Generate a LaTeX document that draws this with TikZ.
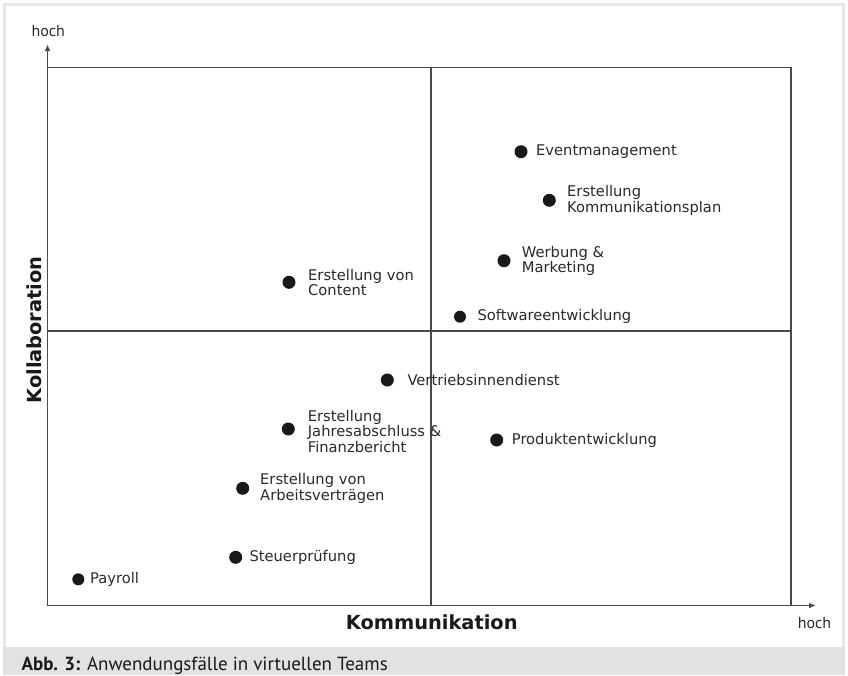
\documentclass[tikz,border=0pt]{standalone}
\usepackage{fontspec}
\newfontfamily\labfont{DejaVu Sans}
\newfontfamily\capfont{PT Sans}
\usetikzlibrary{arrows.meta}
\definecolor{axisgray}{HTML}{4A4A4A}
\definecolor{textgray}{HTML}{2A2A2A}
\definecolor{bordergray}{HTML}{E8E8E8}
\definecolor{bandgray}{HTML}{E2E2E2}
\begin{document}
\begin{tikzpicture}[x=1pt,y=-1pt,
  dot/.style={circle,fill=black!90,inner sep=0pt,minimum size=13pt},
  lbl/.style={anchor=west,inner sep=0pt,align=left,text=textgray,
    font=\labfont\fontsize{14.7}{15.3}\selectfont},
  axislbl/.style={inner sep=0pt,text=black!90,font=\labfont\bfseries\fontsize{19.4}{21}\selectfont},
  hochlbl/.style={inner sep=0pt,anchor=base,text=textgray,font=\capfont\fontsize{16}{18}\selectfont},
  gridline/.style={draw=axisgray,line width=1.3pt},
  midline/.style={draw=axisgray,line width=1.7pt},
  axisline/.style={draw=axisgray,line width=1.3pt,-{Triangle[length=6pt,width=5pt]}}]
\useasboundingbox (0,0) rectangle (848,675);
% frame and caption band
\fill[white] (0,0) rectangle (848,675);
\draw[bordergray,line width=3pt] (4.5,4.5) rectangle (843.5,660);
\fill[bandgray] (3,647) rectangle (845,675);
\node[anchor=base west,inner sep=0pt,font=\capfont\fontsize{19}{21}\selectfont,text=black!90] (cap) at (21.5,670.5) {\textbf{Abb. 3:} Anwendungsfälle in virtuellen Teams};
% coordinates
\coordinate (O) at (47.5,605.5);
\coordinate (Ytip) at (47.5,45);
\coordinate (Xtip) at (815,605.5);
\coordinate (TL) at (47.5,67.5);
\coordinate (TR) at (791,67.5);
\coordinate (BR) at (791,605.5);
\coordinate (MT) at (431,67.5);
\coordinate (MB) at (431,605.5);
\coordinate (ML) at (47.5,331);
\coordinate (MR) at (791,331);
% grid
\draw[gridline] (TL) -- (TR) -- (BR);
\draw[midline] (MT) -- (MB);
\draw[midline] (ML) -- (MR);
\draw[axisline] (O) -- (Ytip);
\draw[axisline] (O) -- (Xtip);
% axis labels
\node[hochlbl] (hochy) at (48.2,36.7) {hoch};
\node[hochlbl] (hochx) at (814.5,628.3) {hoch};
\node[axislbl,anchor=base] (kom) at (431.7,629.3) {Kommunikation};
\node[axislbl,anchor=base,rotate=90] (kol) at (41.7,330) {Kollaboration};
% points
\node[dot] (p1) at (521,151.7) {};
\node[lbl] (t1) at (536,151.7) {Eventmanagement};
\node[dot] (p2) at (549.3,200.3) {};
\node[lbl] (t2) at (567,200.3) {Erstellung\\Kommunikationsplan};
\node[dot] (p3) at (504,260.7) {};
\node[lbl] (t3) at (521.7,260.7) {Werbung \&\\Marketing};
\node[dot,minimum size=12pt] (p4) at (460,316.7) {};
\node[lbl] (t4) at (477.3,316.7) {Softwareentwicklung};
\node[dot] (p5) at (289,282.3) {};
\node[lbl] (t5) at (308,282.3) {Erstellung von\\Content};
\node[dot] (p6) at (387.3,380) {};
\node[lbl] (t6) at (407.3,380) {Vertriebsinnendienst};
\node[dot] (p7) at (288.3,429) {};
\node[lbl] (t7) at (307.7,431.5) {Erstellung\\Jahresabschluss \&\\Finanzbericht};
\node[dot] (p8) at (496.7,440) {};
\node[lbl] (t8) at (511.7,440) {Produktentwicklung};
\node[dot] (p9) at (242.7,488.3) {};
\node[lbl] (t9) at (260,488.3) {Erstellung von\\Arbeitsverträgen};
\node[dot] (p10) at (235.7,557.3) {};
\node[lbl] (t10) at (249.3,557.3) {Steuerprüfung};
\node[dot,minimum size=12pt] (p11) at (78.3,579.3) {};
\node[lbl] (t11) at (90,579.3) {Payroll};
\end{tikzpicture}
\end{document}
